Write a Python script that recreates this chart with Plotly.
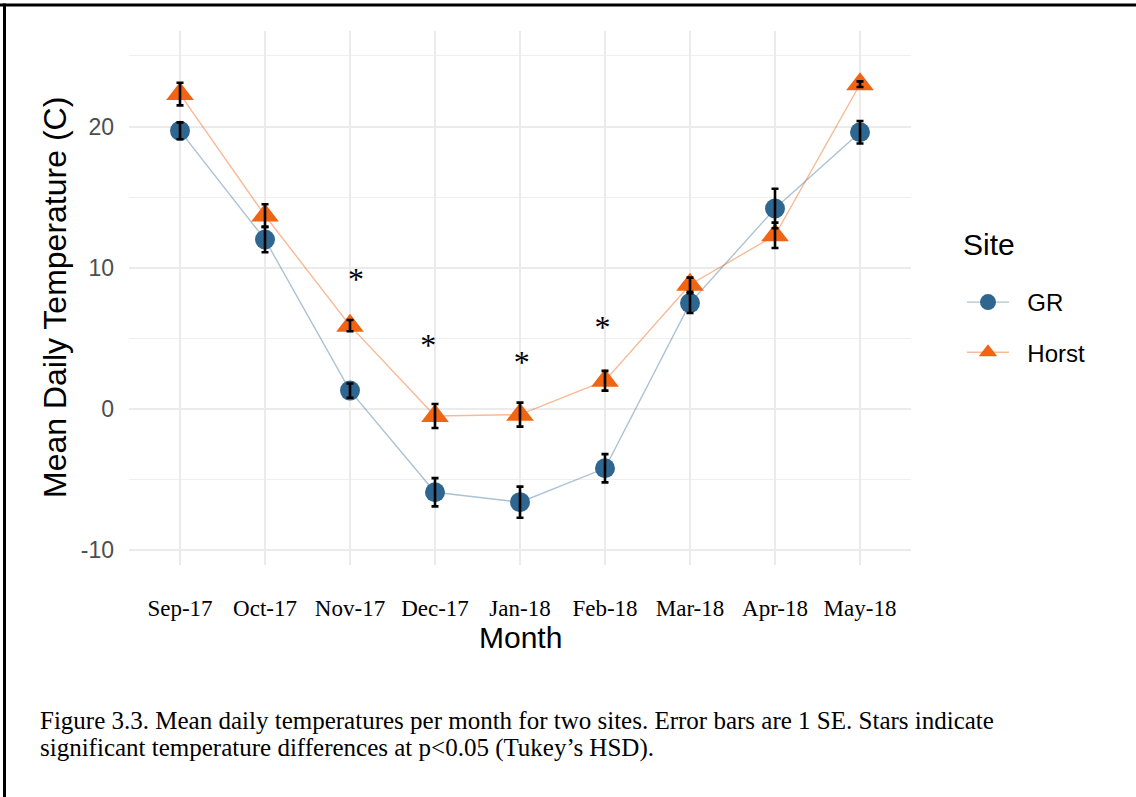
import plotly.graph_objects as go

# ---------------- data ----------------
months = ["Sep-17", "Oct-17", "Nov-17", "Dec-17", "Jan-18", "Feb-18", "Mar-18", "Apr-18", "May-18"]
gr_mean = [19.7, 12.0, 1.3, -5.9, -6.6, -4.2, 7.5, 14.2, 19.6]
gr_se = [0.6, 0.9, 0.5, 1.0, 1.1, 1.0, 0.7, 1.4, 0.8]
horst_mean = [22.3, 13.7, 5.9, -0.5, -0.4, 2.0, 8.8, 12.3, 23.0]
horst_se = [0.8, 0.8, 0.4, 0.85, 0.85, 0.7, 0.5, 0.9, 0.2]
star_x = [3.07, 3.92, 5.02, 5.97]
star_y = [9.0, 4.3, 3.1, 5.6]
star_labels = ["*", "*", "*", "*"]
y_ticks = [-10, 0, 10, 20]
y_ticktext = ["-10", "0", "10", "20"]
site_names = ["GR", "Horst"]
caption_lines = [
    "Figure 3.3. Mean daily temperatures per month for two sites. Error bars are 1 SE. Stars indicate",
    "significant temperature differences at p&lt;0.05 (Tukey’s HSD).",
]

x_pos = list(range(1, len(months) + 1))

W, H = 1136, 797
BLUE = "#2F6690"
ORANGE = "#F06414"

def px_x(p):
    return p / W

def px_y(p):
    return 1 - p / H

fig = go.Figure()

PAD = "\u00a0\u00a0"
fig.add_trace(go.Scatter(
    x=x_pos, y=gr_mean, mode="lines+markers", name=PAD + site_names[0], legendgroup="GR",
    line=dict(color="rgba(47,102,144,0.40)", width=1.4),
    marker=dict(color=BLUE, size=20, symbol="circle"),
))
fig.add_trace(go.Scatter(
    x=x_pos, y=horst_mean, mode="lines+markers", name=PAD + site_names[1], legendgroup="Horst",
    line=dict(color="rgba(240,100,20,0.45)", width=1.4),
    marker=dict(color=ORANGE, size=24, symbol="triangle-up"),
))
for m, s in [(gr_mean, gr_se), (horst_mean, horst_se)]:
    fig.add_trace(go.Scatter(
        x=x_pos, y=m, mode="markers", showlegend=False, hoverinfo="skip",
        marker=dict(size=1, opacity=0),
        error_y=dict(type="data", array=s, visible=True, color="black", thickness=2.6, width=3.5),
    ))

fig.add_trace(go.Scatter(
    x=star_x, y=star_y, mode="text", text=star_labels, showlegend=False, hoverinfo="skip",
    textfont=dict(family="Liberation Serif", size=32, color="black"),
))

annotations = [
    dict(text="Mean Daily Temperature (C)", x=px_x(55), y=px_y(298), xref="paper", yref="paper",
         xanchor="center", yanchor="middle", textangle=-90, showarrow=False,
         font=dict(family="Liberation Sans", size=32, color="black")),
    dict(text="Month", x=px_x(520), y=px_y(637), xref="paper", yref="paper",
         xanchor="center", yanchor="middle", showarrow=False,
         font=dict(family="Liberation Sans", size=30, color="black")),
    dict(text="Site", x=px_x(961), y=px_y(245), xref="paper", yref="paper",
         xanchor="left", yanchor="middle", showarrow=False,
         font=dict(family="Liberation Sans", size=30, color="black")),
]
for i, line in enumerate(caption_lines):
    annotations.append(dict(
        text=line, x=px_x(38), y=px_y(720 + 28 * i), xref="paper", yref="paper",
        xanchor="left", yanchor="middle", align="left", showarrow=False,
        font=dict(family="Liberation Serif", size=25, color="black")))

fig.update_layout(
    width=W, height=H,
    margin=dict(l=0, r=0, t=0, b=0),
    paper_bgcolor="white", plot_bgcolor="white",
    showlegend=True,
    legend=dict(
        x=px_x(962), y=px_y(280), xanchor="left", yanchor="top",
        font=dict(family="Liberation Sans", size=24, color="black"),
        tracegroupgap=16,
        itemwidth=42,
        bgcolor="rgba(0,0,0,0)",
    ),
    xaxis=dict(
        domain=[px_x(129), px_x(911)],
        range=[0.4, 9.6],
        tickvals=x_pos, ticktext=months,
        tickfont=dict(family="Liberation Serif", size=23, color="black"),
        showgrid=True, gridcolor="#EBEBEB", gridwidth=2.4,
        zeroline=False, showline=False, ticks="",
        ticklabelstandoff=27,
    ),
    yaxis=dict(
        domain=[px_y(565), px_y(31)],
        range=[-11.05, 26.77],
        tickvals=y_ticks, ticktext=y_ticktext,
        tickfont=dict(family="Liberation Sans", size=23, color="#4D4D4D"),
        showgrid=True, gridcolor="#EBEBEB", gridwidth=2.4,
        minor=dict(tickvals=[-5, 5, 15, 25], showgrid=True, gridcolor="#EFEFEF", gridwidth=1.4),
        zeroline=False, showline=False, ticks="",
        ticklabelstandoff=14,
    ),
    annotations=annotations,
    shapes=[
        dict(type="line", xref="paper", yref="paper", x0=0, x1=1, y0=px_y(5), y1=px_y(5),
             line=dict(color="black", width=3)),
        dict(type="line", xref="paper", yref="paper", x0=px_x(4.5), x1=px_x(4.5), y0=0, y1=px_y(3.5),
             line=dict(color="black", width=3)),
    ],
)

fig.write_html("out.html")
